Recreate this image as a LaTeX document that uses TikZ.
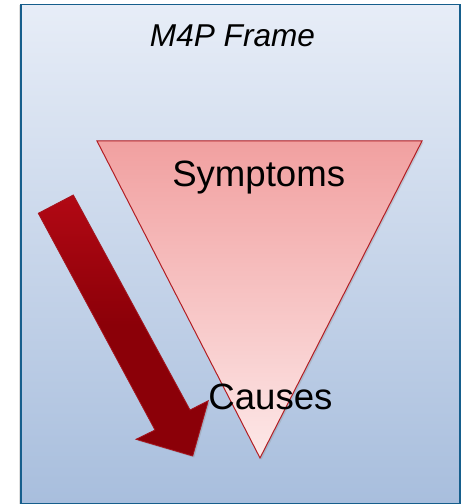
\documentclass[tikz,border=0pt]{standalone}
\usepackage{fontspec}
\setmainfont{Liberation Sans}
\usetikzlibrary{shadows}
\definecolor{framefillT}{RGB}{231,237,247}
\definecolor{framefillB}{RGB}{168,190,221}
\definecolor{frameline}{RGB}{22,94,140}
\definecolor{triT}{RGB}{241,160,160}
\definecolor{triB}{RGB}{253,232,232}
\definecolor{triline}{RGB}{178,30,36}
\definecolor{arrowT}{RGB}{178,8,20}
\definecolor{arrowB}{RGB}{139,0,8}
\definecolor{arrowline}{RGB}{165,20,30}
\tikzset{
  framebox/.style={draw=frameline, line width=1.5pt, top color=framefillT, bottom color=framefillB,
    drop shadow={shadow xshift=-2pt, shadow yshift=-1pt, opacity=0.25}},
  funnel/.style={draw=triline, line width=1pt, top color=triT, bottom color=triB, line join=miter,
    drop shadow={shadow xshift=1.5pt, shadow yshift=-1.5pt, opacity=0.25}},
  blockarrow/.style={draw=arrowline, line width=0.8pt, top color=arrowT, bottom color=arrowB, middle color=arrowB, line join=miter,
    drop shadow={shadow xshift=1.5pt, shadow yshift=-1.5pt, opacity=0.3}},
  lbl/.style={anchor=base, inner sep=0pt, text=black}
}
\begin{document}
\begin{tikzpicture}[x=1pt,y=1pt]
\useasboundingbox (0,0) rectangle (465,504);
% frame
\coordinate (fA) at (21,499.5);
\coordinate (fB) at (460,0.7);
\path[framebox] (fA) rectangle (fB);
% funnel triangle
\coordinate (tL) at (97,363);
\coordinate (tR) at (422,363);
\coordinate (tB) at (260,46);
\path[funnel] (tL) -- (tR) -- (tB) -- cycle;
% block arrow
\coordinate (aA) at (38.3,290.7);
\coordinate (aB) at (73.3,309);
\coordinate (aC) at (190,94);
\coordinate (aD) at (208.3,103.3);
\coordinate (aT) at (192.7,48);
\coordinate (aE) at (136,64.7);
\coordinate (aF) at (155,74);
\path[blockarrow] (aB) -- (aC) -- (aD) -- (aT) -- (aE) -- (aF) -- (aA) -- cycle;
% texts
\node[lbl, font=\fontsize{31.6}{38}\selectfont\itshape] (title) at (232.5,457.3) {M4P Frame};
\node[lbl, font=\fontsize{36.6}{44}\selectfont] (symptoms) at (258.7,317.3) {Symptoms};
\node[lbl, font=\fontsize{36.6}{44}\selectfont] (causes) at (270.5,94) {Causes};
\end{tikzpicture}
\end{document}
